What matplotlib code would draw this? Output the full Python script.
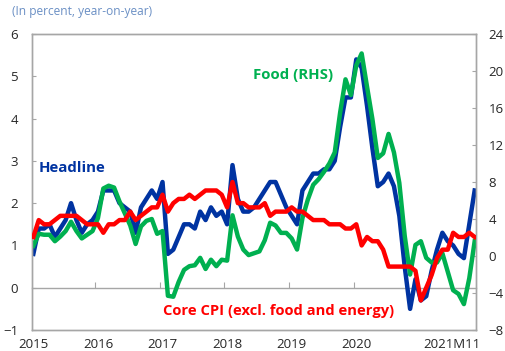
import numpy as np
import matplotlib
matplotlib.use('Agg')
import matplotlib.pyplot as plt

plt.rcParams['font.family'] = ['Open Sans', 'DejaVu Sans']

# Monthly year-on-year rates, 2015M1 to 2021M11
headline = [0.8, 1.4, 1.4, 1.5, 1.2, 1.4, 1.6, 2.0, 1.6, 1.3, 1.5, 1.6,
            1.8, 2.3, 2.3, 2.3, 2.0, 1.9, 1.8, 1.3, 1.9, 2.1, 2.3, 2.1,
            2.5, 0.8, 0.9, 1.2, 1.5, 1.5, 1.4, 1.8, 1.6, 1.9, 1.7, 1.8,
            1.5, 2.9, 2.1, 1.8, 1.8, 1.9, 2.1, 2.3, 2.5, 2.5, 2.2, 1.9,
            1.7, 1.5, 2.3, 2.5, 2.7, 2.7, 2.8, 2.8, 3.0, 3.8, 4.5, 4.5,
            5.4, 5.2, 4.3, 3.3, 2.4, 2.5, 2.7, 2.4, 1.7, 0.5, -0.5, 0.2,
            -0.3, -0.2, 0.4, 0.9, 1.3, 1.1, 1.0, 0.8, 0.7, 1.5, 2.3]
food = [1.1, 2.4, 2.3, 2.3, 1.6, 2.1, 2.7, 3.7, 2.7, 1.9, 2.3, 2.7,
        4.1, 7.3, 7.6, 7.4, 5.9, 4.6, 3.3, 1.3, 3.2, 3.8, 4.0, 2.4,
        2.7, -4.3, -4.4, -2.8, -1.5, -1.1, -1.0, -0.2, -1.4, -0.4, -1.1, -0.4,
        -0.5, 4.4, 2.1, 0.7, 0.1, 0.3, 0.5, 1.7, 3.6, 3.3, 2.5, 2.5,
        1.9, 0.7, 4.1, 6.1, 7.7, 8.3, 9.1, 10.0, 11.2, 15.5, 19.1, 17.4,
        20.6, 21.9, 18.3, 14.8, 10.6, 11.1, 13.2, 11.2, 7.9, 2.2, -2.0, 1.2,
        1.6, -0.2, -0.7, -0.7, 0.3, -1.7, -3.7, -4.1, -5.2, -2.4, 1.6]
core = [1.2, 1.6, 1.5, 1.5, 1.6, 1.7, 1.7, 1.7, 1.7, 1.6, 1.5, 1.5,
        1.5, 1.3, 1.5, 1.5, 1.6, 1.6, 1.8, 1.6, 1.7, 1.8, 1.9, 1.9,
        2.2, 1.8, 2.0, 2.1, 2.1, 2.2, 2.1, 2.2, 2.3, 2.3, 2.3, 2.2,
        1.9, 2.5, 2.0, 2.0, 1.9, 1.9, 1.9, 2.0, 1.7, 1.8, 1.8, 1.8,
        1.9, 1.8, 1.8, 1.7, 1.6, 1.6, 1.6, 1.5, 1.5, 1.5, 1.4, 1.4,
        1.5, 1.0, 1.2, 1.1, 1.1, 0.9, 0.5, 0.5, 0.5, 0.5, 0.5, 0.4,
        -0.3, 0.0, 0.3, 0.7, 0.9, 0.9, 1.3, 1.2, 1.2, 1.3, 1.2]
year_labels = ['2015', '2016', '2017', '2018', '2019', '2020']
last_label = '2021M11'

BLUE = '#0033a1'
GREEN = '#00b050'
RED = '#ff0000'
FRAME = '#a6a6a6'
TICKTXT = '#262626'

months = np.arange(len(headline))

fig = plt.figure(figsize=(5.05, 3.51), dpi=100)
ax = fig.add_axes([0.0634, 0.0598, 0.8792, 0.8433])
ax2 = ax.twinx()   # food, right-hand scale
ax3 = ax.twinx()   # core, drawn on top using left scale

ax.plot(months, headline, color=BLUE, lw=3.2, solid_joinstyle='round')
ax2.plot(months, food, color=GREEN, lw=3.2, solid_joinstyle='round')
ax3.plot(months, core, color=RED, lw=3.2, solid_joinstyle='round')

ax.set_xlim(-0.25, 82.25)
ax.set_ylim(-1, 6)
ax2.set_ylim(-8, 24)
ax3.set_ylim(-1, 6)
ax3.axis('off')

ax.set_yticks(range(-1, 7))
ax2.set_yticks(range(-8, 25, 4))
ax.tick_params(axis='y', direction='in', length=3, color=FRAME,
               labelcolor=TICKTXT, labelsize=9.5, pad=10)
ax2.tick_params(axis='y', direction='in', length=3, color=FRAME,
                labelcolor=TICKTXT, labelsize=9.5, pad=9)

ax.set_xticks(months[::12][:len(year_labels)])
ax.set_xticklabels(year_labels)
ax.tick_params(axis='x', length=0, labelcolor=TICKTXT, labelsize=9.5, pad=6)
ax.annotate(last_label, xy=(months[-1], 0), xycoords=('data', 'axes fraction'),
            xytext=(4, -6), textcoords='offset points', ha='right', va='top',
            color=TICKTXT, fontsize=9.5)

for a in (ax, ax2):
    for sp in a.spines.values():
        sp.set_color(FRAME)
        sp.set_linewidth(1)

# zero line with year ticks
zero = ax.secondary_xaxis(1 / 7)
zero.set_xticks(months[11:60:12] + 0.5)
zero.tick_params(direction='in', length=4, color=FRAME, labelbottom=False)
zero.spines['bottom'].set_color(FRAME)
zero.spines['bottom'].set_linewidth(1)

ax3.text(0.9, 2.84, 'Headline', color=BLUE, fontsize=10.8, fontweight='bold',
         va='center', ha='left')
ax3.text(40.8, 5.02, 'Food (RHS)', color=GREEN, fontsize=10.8, fontweight='bold',
         va='center', ha='left')
ax3.text(24.1, -0.56, 'Core CPI (excl. food and energy)', color=RED, fontsize=10.6,
         fontweight='bold', va='center', ha='left')

fig.text(12 / 505, 1 - 12 / 351, '(In percent, year-on-year)', color='#6a8fc4',
         fontsize=8.6, va='center', ha='left')

fig.savefig('out.png', dpi=100)
